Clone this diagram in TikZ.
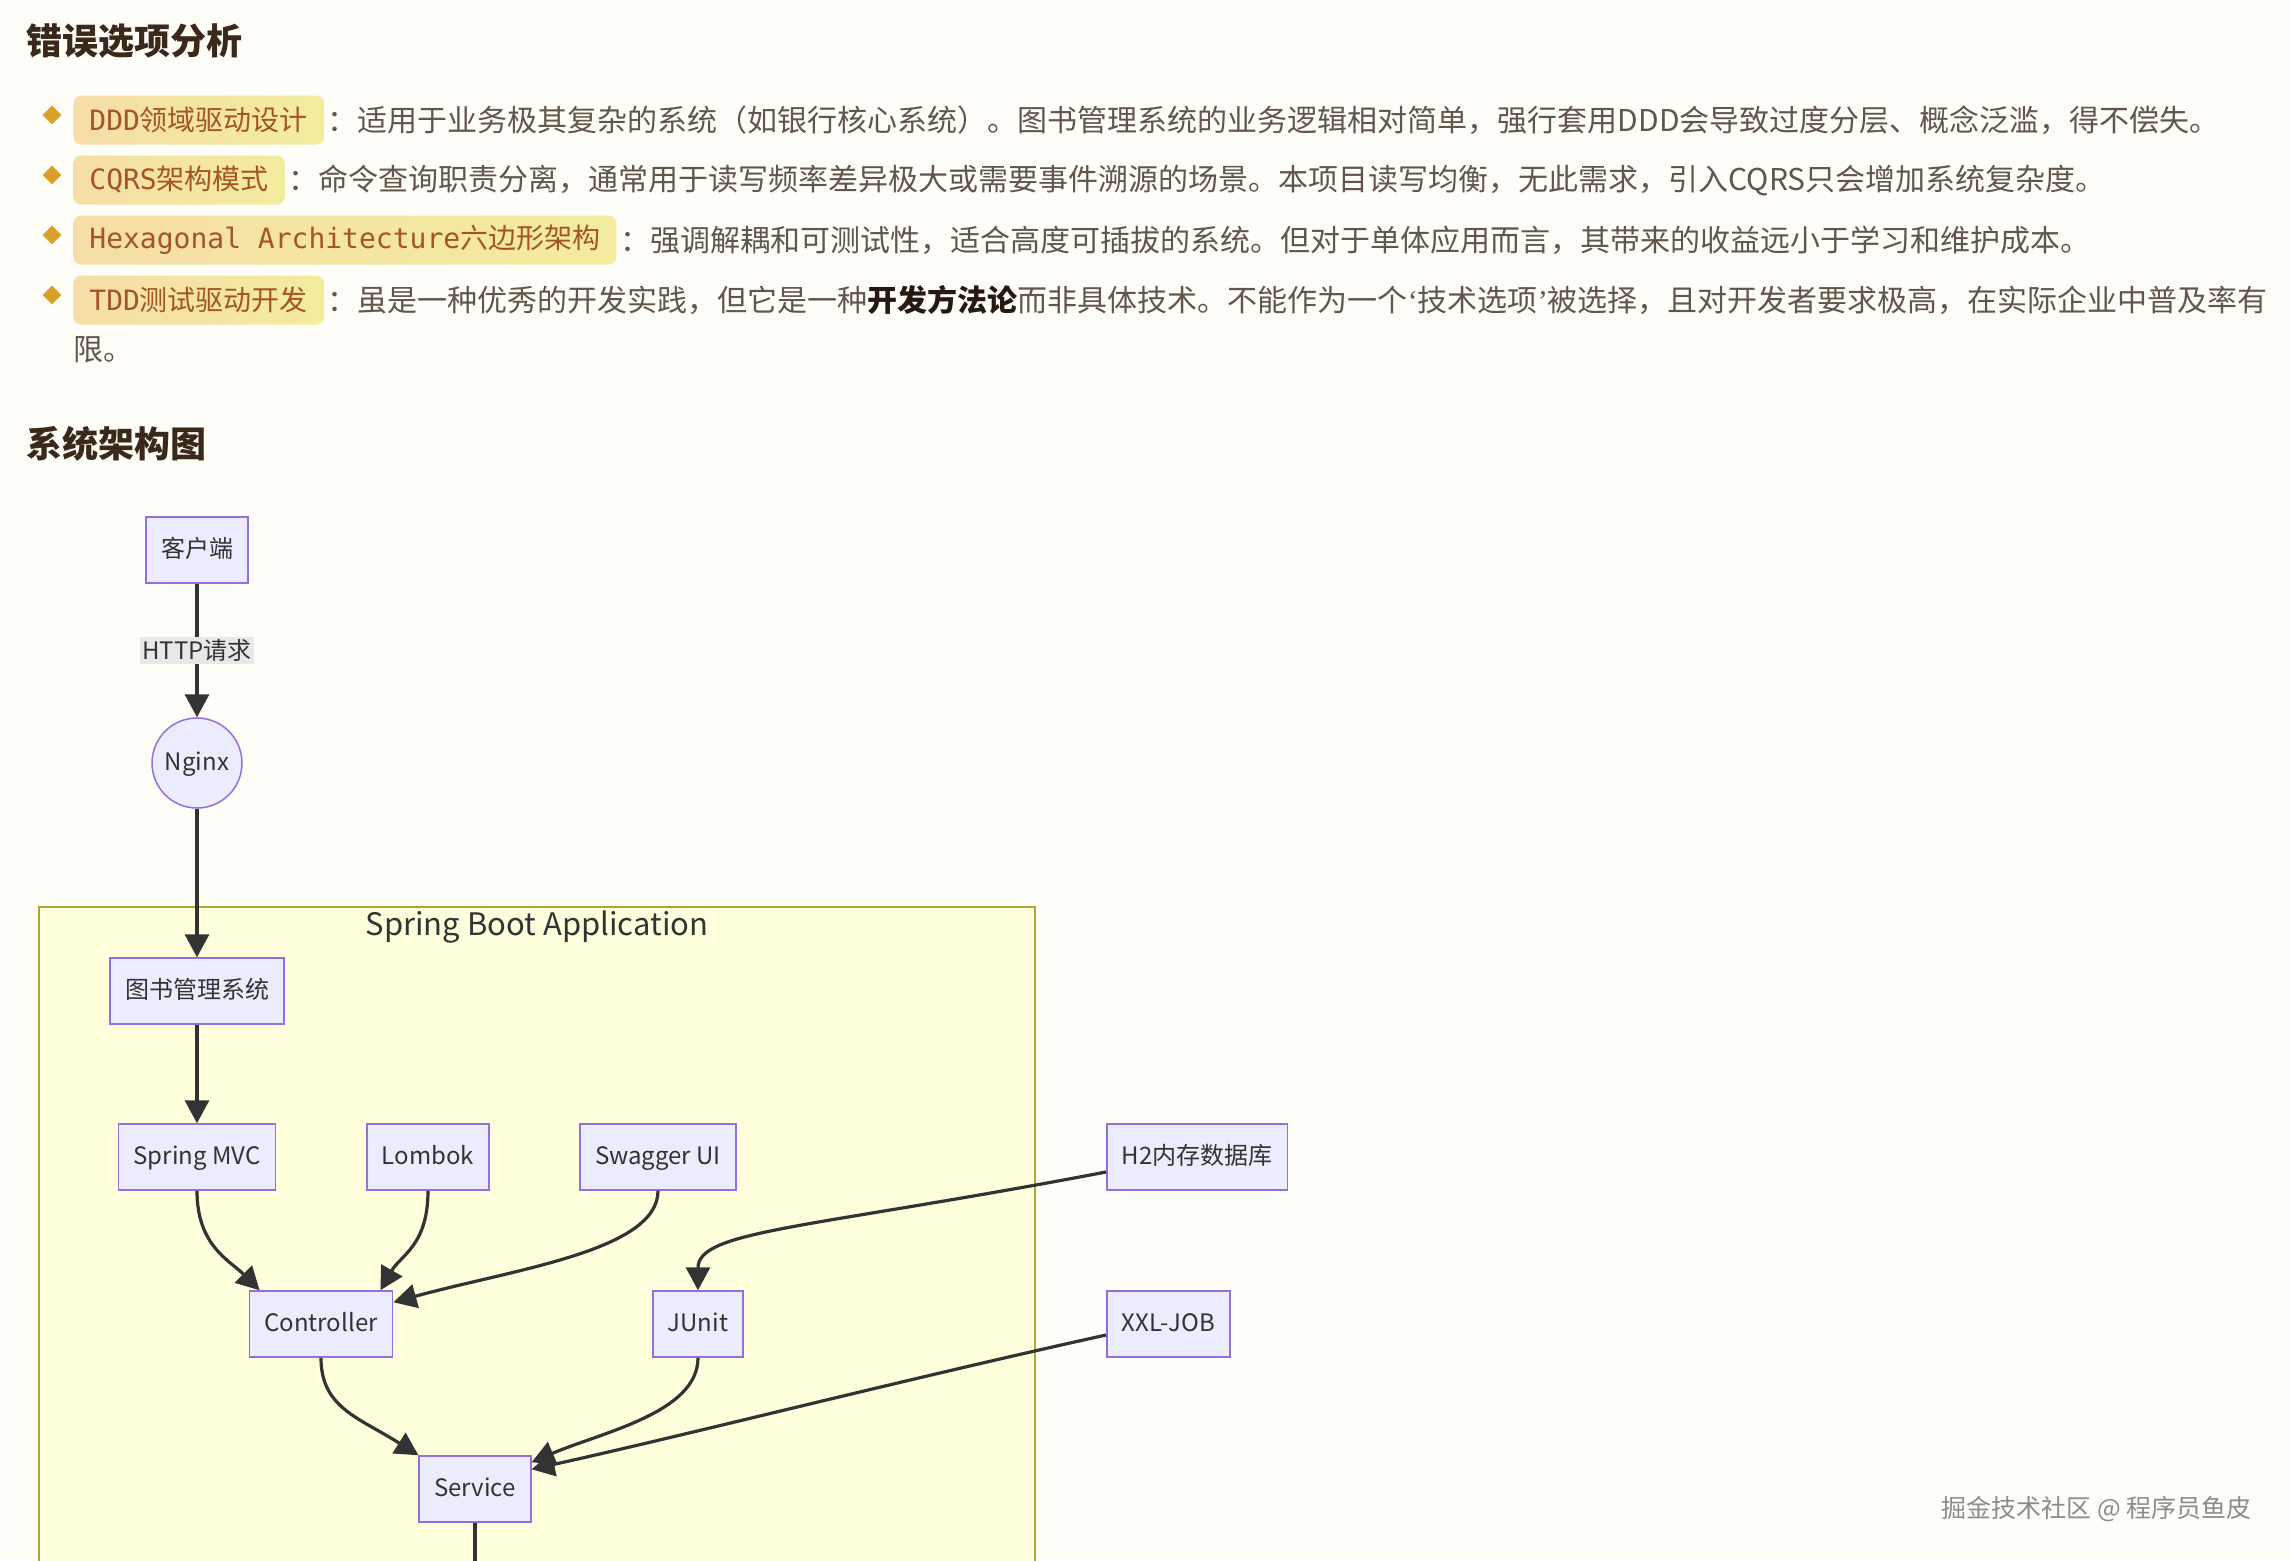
\documentclass[tikz,border=0pt]{standalone}
\usepackage{fontspec}
\setmainfont{Noto Sans CJK SC}
\newfontfamily\codefont{DejaVu Sans Mono}
\newfontfamily\quotefont{Liberation Serif}
\usetikzlibrary{positioning,shapes.geometric,arrows.meta}
\definecolor{pagebg}{RGB}{255,253,248}
\definecolor{headtext}{RGB}{58,40,26}
\definecolor{bodytext}{RGB}{98,86,74}
\definecolor{strongtext}{RGB}{38,26,16}
\definecolor{bulletgold}{RGB}{218,160,42}
\definecolor{pillleft}{RGB}{246,222,168}
\definecolor{pillright}{RGB}{243,236,158}
\definecolor{pilltext}{RGB}{166,84,38}
\definecolor{nodefill}{RGB}{236,236,255}
\definecolor{nodeline}{RGB}{147,112,219}
\definecolor{edgeline}{RGB}{51,51,51}
\definecolor{clusterfill}{RGB}{255,255,222}
\definecolor{clusterline}{RGB}{170,170,51}
\definecolor{labelfill}{RGB}{232,232,232}
\definecolor{marktext}{RGB}{140,140,140}

\begin{document}
\begin{tikzpicture}[x=0.5pt, y=-0.5pt,
  head/.style={anchor=west, inner sep=0pt, text=headtext, font=\fontsize{18pt}{22pt}\selectfont\bfseries},
  bullet/.style={diamond, fill=bulletgold, inner sep=0pt, minimum width=9.5pt, minimum height=9.5pt},
  pill/.style={anchor=west, rounded corners=4pt, left color=pillleft, right color=pillright, text=pilltext, minimum height=24.5pt, inner xsep=8pt, inner ysep=0pt, font=\fontsize{14pt}{16pt}\selectfont},
  body/.style={anchor=west, inner sep=0pt, text=bodytext, font=\fontsize{15pt}{18pt}\selectfont},
  box/.style={draw=nodeline, line width=0.75pt, fill=nodefill, text=edgeline, minimum height=33pt, inner xsep=7.5pt, text height=0.8em, text depth=0.1em, font=\fontsize{12pt}{14pt}\selectfont},
  circlebox/.style={box, circle, minimum size=45pt, inner sep=0pt},
  arr/.style={-{Triangle[length=11.5pt,width=12pt]}, line width=1.6pt, draw=edgeline},
  lab/.style={fill=labelfill, text=edgeline, inner xsep=1pt, inner ysep=1pt, font=\fontsize{12pt}{14pt}\selectfont}]

\fill[pagebg] (0,0) rectangle (2290,1560);
\useasboundingbox (0,0) rectangle (2290,1560);
\clip (0,0) rectangle (2290,1560);

% wrong options
\node[head] (wrongtitle) at (26,41) {错误选项分析};
\node[bullet] (b1) at (52,115) {};
\node[pill] (ddd) at (73,120) {{\codefont DDD}领域驱动设计};
\node[body, right=1.5pt of ddd] (dddtext) {：适用于业务极其复杂的系统（如银行核心系统）。图书管理系统的业务逻辑相对简单，强行套用DDD会导致过度分层、概念泛滥，得不偿失。};
\node[bullet] (b2) at (52,175) {};
\node[pill] (cqrs) at (73,180) {{\codefont CQRS}架构模式};
\node[body, right=1.5pt of cqrs] (cqrstext) {：命令查询职责分离，通常用于读写频率差异极大或需要事件溯源的场景。本项目读写均衡，无此需求，引入CQRS只会增加系统复杂度。};
\node[bullet] (b3) at (52,235) {};
\node[pill] (hexa) at (73,240) {{\codefont Hexagonal Architecture}六边形架构};
\node[body, right=1.5pt of hexa] (hexatext) {：强调解耦和可测试性，适合高度可插拔的系统。但对于单体应用而言，其带来的收益远小于学习和维护成本。};
\node[bullet] (b4) at (52,295) {};
\node[pill] (tdd) at (73,300) {{\codefont TDD}测试驱动开发};
\node[body, right=1.5pt of tdd] (tddtext) {：虽是一种优秀的开发实践，但它是一种{\bfseries\color{strongtext}开发方法论}而非具体技术。不能作为一个{\quotefont ‘}技术选项{\quotefont ’}被选择，且对开发者要求极高，在实际企业中普及率有};
\node[body] (tddmore) at (73,350) {限。};

% architecture
\node[head] (archtitle) at (26,444) {系统架构图};
\draw[clusterline, fill=clusterfill, line width=0.6pt] (39,907) rectangle (1035,1620);
\node[text=edgeline, inner sep=0pt, font=\fontsize{15.5pt}{18pt}\selectfont] (apptitle) at (537,927) {Spring Boot Application};

\node[box] (client) at (197,550) {客户端};
\node[circlebox] (nginx) at (197,763) {Nginx};
\node[box] (bms) at (197,991) {图书管理系统};
\node[box] (mvc) at (197,1157) {Spring MVC};
\node[box] (lombok) at (428,1157) {Lombok};
\node[box] (swagger) at (658,1157) {Swagger UI};
\node[box, anchor=west] (h2) at (1106,1157) {H2内存数据库};
\node[box] (ctrl) at (321,1324) {Controller};
\node[box] (junit) at (698,1324) {JUnit};
\node[box, anchor=west] (xxl) at (1106,1324) {XXL-JOB};
\node[box] (service) at (475,1489) {Service};
\coordinate (offpage) at (475,1620);

\draw[arr] (client) -- node[lab] (httplab) {HTTP请求} (nginx);
\draw[arr] (nginx) -- (bms);
\draw[arr] (bms) -- (mvc);
\draw[arr] (mvc.south) .. controls +(0,55) and +(-30,-30) .. ([xshift=5.5pt]ctrl.north west);
\draw[arr] (lombok.south) .. controls +(0,55) and +(20,-35) .. ([xshift=-6.5pt]ctrl.north east);
\draw[arr] (swagger.south) .. controls +(0,60) and +(120,-33) .. ([yshift=-6pt]ctrl.north east);
\draw[arr] ([yshift=-7.5pt]h2.west) .. controls +(-300,57) and +(0,-60) .. (junit.north);
\draw[arr] (ctrl.south) .. controls +(0,50) and +(-60,-38) .. (service.north west);
\draw[arr] (junit.south) .. controls +(0,55) and +(70,-30) .. ([yshift=-3.5pt]service.north east);
\draw[arr] ([yshift=-5.5pt]xxl.west) .. controls +(-200,44) and +(150,-33) .. ([yshift=-7pt]service.north east);
\draw[line width=1.6pt, edgeline] (service.south) -- (offpage);

% watermark
\node[text=marktext, anchor=east, inner sep=0pt, font=\fontsize{12.5pt}{14pt}\selectfont] (mark) at (2252,1509) {掘金技术社区 @ 程序员鱼皮};
\end{tikzpicture}
\end{document}
